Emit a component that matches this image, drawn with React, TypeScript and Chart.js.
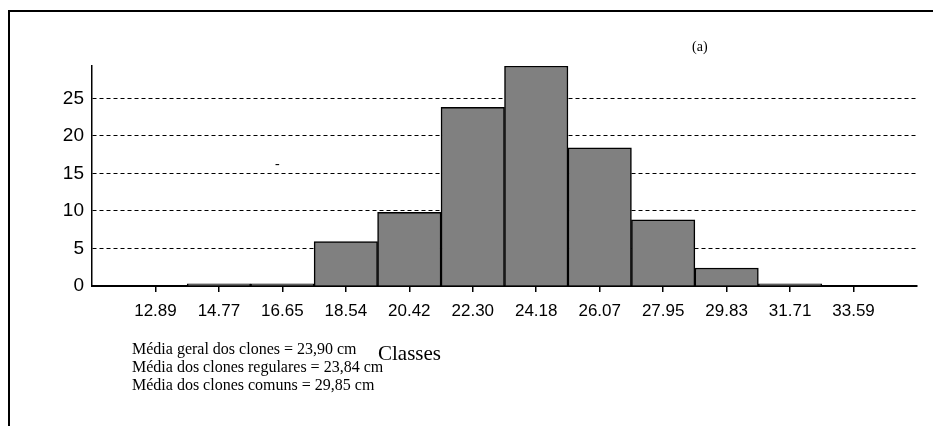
import { useEffect, useRef } from 'react';
import { Chart, registerables } from 'chart.js';

Chart.register(...registerables);

const classes = ['12.89', '14.77', '16.65', '18.54', '20.42', '22.30', '24.18', '26.07', '27.95', '29.83', '31.71', '33.59'];
const frequencies = [0, 0.3, 0.3, 5.9, 9.8, 23.8, 29.3, 18.4, 8.8, 2.4, 0.3, 0];
const yMax = 29.3;
const yStep = 5;
const notes = [
  'Média geral dos clones = 23,90 cm',
  'Média dos clones regulares = 23,84 cm',
  'Média dos clones comuns = 29,85 cm',
];
const xTitle = 'Classes';
const panelLabel = '(a)';

export default function App() {
  const ref = useRef<HTMLCanvasElement | null>(null);

  useEffect(() => {
    if (!ref.current) return;
    const chart = new Chart(ref.current, {
      type: 'bar',
      data: {
        datasets: [
          {
            data: frequencies.map((v, i) => ({ x: i, y: v })),
            backgroundColor: '#808080',
            borderColor: '#000000',
            borderWidth: 1.5,
            barPercentage: 1,
            categoryPercentage: 1,
          },
        ],
      },
      options: {
        responsive: false,
        animation: false,
        layout: { padding: { top: 66, right: 16, left: 0, bottom: 0 } },
        plugins: { legend: { display: false }, tooltip: { enabled: false }, title: { display: false } },
        scales: {
          x: {
            type: 'linear',
            offset: false,
            min: -1,
            max: classes.length,
            afterBuildTicks: (scale: any) => {
              scale.ticks = classes.map((_, i) => ({ value: i }));
            },
            afterFit: (scale: any) => {
              scale.height = 140;
            },
            ticks: {
              autoSkip: false,
              maxRotation: 0,
              padding: 9,
              color: '#000',
              font: { family: 'Liberation Sans', size: 17 },
              callback: (v: any) => classes[v as number] ?? '',
            },
            grid: {
              offset: false,
              drawOnChartArea: false,
              drawTicks: true,
              tickLength: 6,
              color: '#000',
              lineWidth: 1.5,
            },
            border: { display: true, color: '#000', width: 2 },
          },
          y: {
            min: 0,
            max: yMax,
            afterFit: (scale: any) => {
              scale.width = 92;
            },
            ticks: {
              stepSize: yStep,
              includeBounds: false,
              padding: 8,
              color: '#000',
              font: { family: 'Liberation Sans', size: 19 },
            },
            grid: {
              drawTicks: false,
              lineWidth: 1,
              color: (ctx: any) => (ctx.tick && ctx.tick.value === 0 ? 'rgba(0,0,0,0)' : '#000'),
            },
            border: { display: true, color: '#000', width: 1.5, dash: [4, 3] },
          },
        },
      },
    });
    return () => chart.destroy();
  }, []);

  const serif = '"Liberation Serif", "Times New Roman", serif';

  return (
    <div>
      <canvas
        ref={ref}
        width={933}
        height={426}
        style={{ position: 'fixed', left: 0, top: 0, width: 933, height: 426, display: 'block' }}
      />
      <div
        style={{
          position: 'fixed',
          left: 8,
          top: 10,
          width: 1000,
          height: 500,
          borderTop: '2px solid #000',
          borderLeft: '2px solid #000',
          pointerEvents: 'none',
        }}
      />
      <div style={{ position: 'fixed', left: 692, top: 39, fontFamily: serif, fontSize: 14, lineHeight: '16px', color: '#000' }}>
        {panelLabel}
      </div>
      <div style={{ position: 'fixed', left: 275, top: 157, fontFamily: serif, fontSize: 14, lineHeight: '14px', color: '#000' }}>
        -
      </div>
      <div style={{ position: 'fixed', left: 132, top: 340, fontFamily: serif, fontSize: 16, lineHeight: '18px', color: '#000', whiteSpace: 'nowrap' }}>
        {notes.map((n) => (
          <div key={n}>{n}</div>
        ))}
      </div>
      <div style={{ position: 'fixed', left: 378, top: 341, fontFamily: serif, fontSize: 21, lineHeight: '24px', color: '#000' }}>
        {xTitle}
      </div>
    </div>
  );
}
